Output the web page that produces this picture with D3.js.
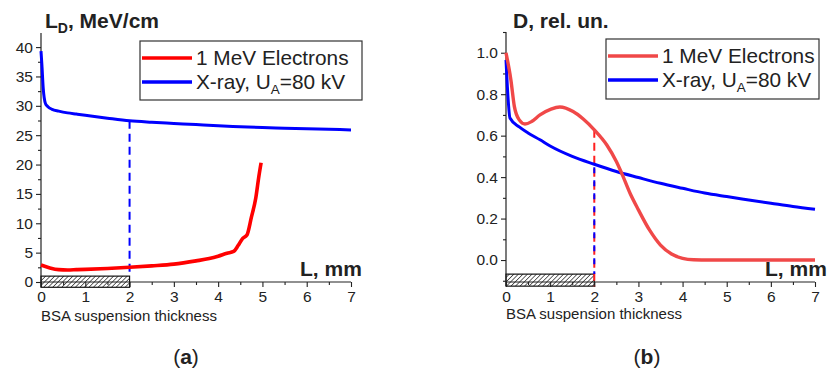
<!DOCTYPE html>
<html><head><meta charset="utf-8">
<script src="https://cdn.jsdelivr.net/npm/d3@7"></script>
<style>
html,body{margin:0;padding:0;background:#fff;}
svg{display:block;}
text{font-family:"Liberation Sans",Arial,sans-serif;fill:#222;}
</style></head>
<body>
<script>
// ---------- DATA ----------
// Panel (a): linear energy transfer L_D, MeV/cm vs depth L, mm
const aXrayL = [0, 0.02, 0.05, 0.1, 0.15, 0.25, 0.4, 0.6, 0.8, 1, 1.5, 2, 2.5, 3, 3.5, 4, 4.5, 5, 5.5, 6, 6.5, 7];
const aXrayV = [39.3, 37, 33, 30.4, 29.9, 29.4, 29.1, 28.8, 28.6, 28.4, 27.9, 27.45, 27.2, 27.0, 26.8, 26.6, 26.45, 26.3, 26.2, 26.1, 26.0, 25.9];
const aElecL = [0, 0.2, 0.4, 0.6, 0.8, 1, 1.5, 2, 2.5, 3, 3.5, 3.8, 4, 4.2, 4.35, 4.45, 4.55, 4.65, 4.75, 4.85, 4.92, 4.97];
const aElecV = [2.9, 2.4, 2.1, 2.05, 2.1, 2.15, 2.3, 2.5, 2.75, 3.05, 3.6, 4.0, 4.4, 4.9, 5.2, 6.2, 7.4, 8.0, 11, 14.3, 18.0, 20.3];
// Panel (b): relative dose D vs depth L, mm
const bXrayL = [0, 0.03, 0.09, 0.3, 0.5, 0.77, 1, 1.5, 2, 2.5, 3, 3.5, 4, 4.5, 5, 5.5, 6, 6.5, 7];
const bXrayV = [0.965, 0.84, 0.685, 0.642, 0.613, 0.58, 0.55, 0.5, 0.462, 0.427, 0.398, 0.37, 0.346, 0.323, 0.306, 0.29, 0.274, 0.258, 0.245];
const bElecL = [0, 0.11, 0.19, 0.3, 0.43, 0.58, 0.77, 1.02, 1.22, 1.52, 1.75, 2, 2.28, 2.5, 2.62, 2.81, 3, 3.25, 3.5, 3.75, 4, 4.25, 4.6, 5, 6, 7];
const bElecV = [1.0, 0.87, 0.74, 0.676, 0.656, 0.668, 0.70, 0.728, 0.738, 0.716, 0.68, 0.628, 0.556, 0.475, 0.419, 0.322, 0.242, 0.145, 0.072, 0.029, 0.008, 0.001, 0, 0, 0, 0];

const xTicks = [0, 1, 2, 3, 4, 5, 6, 7];
const aYTicks = [0, 5, 10, 15, 20, 25, 30, 35, 40];
const bYTicks = [0.0, 0.2, 0.4, 0.6, 0.8, 1.0];
const seriesNames = ["1 MeV Electrons", "X-ray, U", "A", "=80 kV"];
const thicknessL = 2; // BSA suspension thickness, mm
const captions = ["a", "b"];

// ---------- DRAW ----------
const W = 827, H = 374;
const svg = d3.select("body").append("svg").attr("width", W).attr("height", H);

const defs = svg.append("defs");
const pat = defs.append("pattern").attr("id", "hatch").attr("patternUnits", "userSpaceOnUse")
  .attr("width", 3.2).attr("height", 3.2).attr("patternTransform", "rotate(45)");
pat.append("rect").attr("width", 3.2).attr("height", 3.2).attr("fill", "#fff");
pat.append("line").attr("x1", 0).attr("y1", 0).attr("x2", 0).attr("y2", 3.2)
  .attr("stroke", "#444").attr("stroke-width", 1.6);

function panel(cfg) {
  const g = svg.append("g");
  const x = d3.scaleLinear().domain([0, 7]).range([cfg.x0, cfg.x1]);
  const y = d3.scaleLinear().domain(cfg.yDomain).range([cfg.yBottom, cfg.yTop]);
  const axisY = cfg.yBottom;

  // hatched rectangle (BSA layer)
  g.append("rect").attr("x", x(0)).attr("width", x(thicknessL) - x(0))
    .attr("y", y(cfg.hatch[1])).attr("height", y(cfg.hatch[0]) - y(cfg.hatch[1]))
    .attr("fill", "url(#hatch)").attr("stroke", "#111").attr("stroke-width", 1.2);

  // x axis
  const xa = g.append("g").attr("class", "xax").attr("transform", `translate(0,${axisY})`)
    .call(d3.axisBottom(x).tickValues(xTicks).tickFormat(d3.format("d")).tickSize(5).tickPadding(1));
  g.append("g").attr("transform", `translate(0,${axisY})`)
    .call(d3.axisBottom(x).tickValues(d3.range(0.5, 7, 1)).tickFormat("").tickSize(3))
    .select(".domain").remove();
  // y axis
  const ya = g.append("g").attr("class", "yax").attr("transform", `translate(${cfg.x0},0)`)
    .call(d3.axisLeft(y).tickValues(cfg.yTicks).tickFormat(cfg.yFmt).tickSize(5).tickPadding(3));
  g.append("g").attr("transform", `translate(${cfg.x0},0)`)
    .call(d3.axisLeft(y).tickValues(cfg.yMinor).tickFormat("").tickSize(3))
    .select(".domain").remove();
  g.selectAll(".domain").attr("stroke", "#222").attr("stroke-width", 1.2);
  g.selectAll(".tick line").attr("stroke", "#222").attr("stroke-width", 1.1);
  g.selectAll(".tick text").attr("font-size", 15.5).attr("fill", "#222")
    .attr("font-family", '"Liberation Sans",Arial,sans-serif');
  xa.selectAll(".tick text").attr("dy", "0.9em");
  xa.select(".domain").attr("d", `M${cfg.x0},0H${cfg.x1}`);
  ya.select(".domain").attr("d", `M0,${cfg.yAxisEnd}V${cfg.yTop}`);

  // dashed drop lines at the suspension thickness
  cfg.drops.forEach(dr => {
    g.append("line").attr("x1", x(thicknessL)).attr("x2", x(thicknessL))
      .attr("y1", y(dr.from)).attr("y2", y(dr.to))
      .attr("stroke", dr.color).attr("stroke-width", 2)
      .attr("stroke-dasharray", dr.dash).attr("stroke-dashoffset", dr.offset || 0);
  });

  const line = d3.line().x(d => x(d[0])).y(d => y(d[1])).curve(d3.curveMonotoneX);
  g.append("path").datum(d3.zip(cfg.xrayL, cfg.xrayV)).attr("d", line)
    .attr("fill", "none").attr("stroke", "#0000ff").attr("stroke-width", 3).attr("stroke-linejoin", "round");
  g.append("path").datum(d3.zip(cfg.elecL, cfg.elecV)).attr("d", line)
    .attr("fill", "none").attr("stroke", cfg.redColor).attr("stroke-width", cfg.redWidth).attr("stroke-linejoin", "round");

  // axis titles
  const yt = g.append("text").attr("x", cfg.yTitleX).attr("y", 28)
    .attr("font-size", 21).attr("font-weight", "bold").attr("fill", "#111");
  cfg.yTitle(yt);
  g.append("text").attr("x", cfg.lTitleX).attr("y", 276).attr("font-size", 21)
    .attr("font-weight", "bold").attr("fill", "#111").text("L, mm");
  g.append("text").attr("x", x(0)).attr("y", cfg.bsaY).attr("font-size", 15)
    .attr("fill", "#222").text("BSA suspension thickness");

  // legend
  const lg = g.append("g");
  lg.append("rect").attr("x", cfg.leg[0]).attr("y", cfg.leg[1]).attr("width", cfg.leg[2]).attr("height", cfg.leg[3])
    .attr("fill", "#fff").attr("stroke", "#333").attr("stroke-width", 1.2);
  const rows = [{c: cfg.redColor, y: cfg.leg[1] + 17}, {c: "#0000ff", y: cfg.leg[1] + 41}];
  rows.forEach((r, i) => {
    lg.append("line").attr("x1", cfg.leg[0] + 2).attr("x2", cfg.leg[0] + 52).attr("y1", r.y).attr("y2", r.y)
      .attr("stroke", r.c).attr("stroke-width", 3.5);
    const t = lg.append("text").attr("x", cfg.leg[0] + 56).attr("y", r.y + 7).attr("font-size", 20.8).attr("fill", "#222");
    if (i === 0) t.text(seriesNames[0]);
    else {
      t.append("tspan").text(seriesNames[1]);
      t.append("tspan").attr("font-size", 13.5).attr("dy", 5).text(seriesNames[2]);
      t.append("tspan").attr("dy", -5).text(seriesNames[3]);
    }
  });

  // caption
  const cap = svg.append("text").attr("x", cfg.capX).attr("y", 364).attr("text-anchor", "middle")
    .attr("font-family", '"Liberation Serif","DejaVu Serif",serif').attr("font-size", 21).attr("fill", "#111");
  cap.append("tspan").text("(");
  cap.append("tspan").attr("font-weight", "bold").text(cfg.cap);
  cap.append("tspan").text(")");
}

panel({
  x0: 41, x1: 351, yBottom: 282, yTop: 33, yAxisEnd: 287, yDomain: [0, 42.4],
  yTicks: aYTicks, yMinor: d3.range(2.5, 42, 5), yFmt: d3.format("d"),
  hatch: [-0.9, 1.0],
  xrayL: aXrayL, xrayV: aXrayV, elecL: aElecL, elecV: aElecV, redColor: "#ff0000", redWidth: 3.6,
  drops: [{from: 27.45, to: 1.0, color: "#0000ff", dash: "8,5"}],
  yTitleX: 45, lTitleX: 300, bsaY: 321,
  yTitle: t => { t.append("tspan").text("L"); t.append("tspan").attr("font-size", 14).attr("dy", 5).text("D");
                 t.append("tspan").attr("dy", -5).text(", MeV/cm"); },
  leg: [140, 41, 222, 59], capX: 186, cap: captions[0]
});

panel({
  x0: 506, x1: 815, yBottom: 282, yTop: 32, yAxisEnd: 286, yDomain: [-0.106, 1.1],
  yTicks: bYTicks, yMinor: d3.range(-0.1, 1.15, 0.2), yFmt: d3.format(".1f"),
  hatch: [-0.126, -0.068],
  xrayL: bXrayL, xrayV: bXrayV, elecL: bElecL, elecV: bElecV, redColor: "#f04848", redWidth: 3.4,
  drops: [{from: 0.628, to: -0.126, color: "#ff2020", dash: "8,5"},
          {from: 0.462, to: -0.068, color: "#0000ff", dash: "6,7", offset: 10}],
  yTitleX: 513, lTitleX: 765, bsaY: 319,
  yTitle: t => t.text("D, rel. un."),
  leg: [606, 39, 213, 60], capX: 647, cap: captions[1]
});
</script>
</body></html>
